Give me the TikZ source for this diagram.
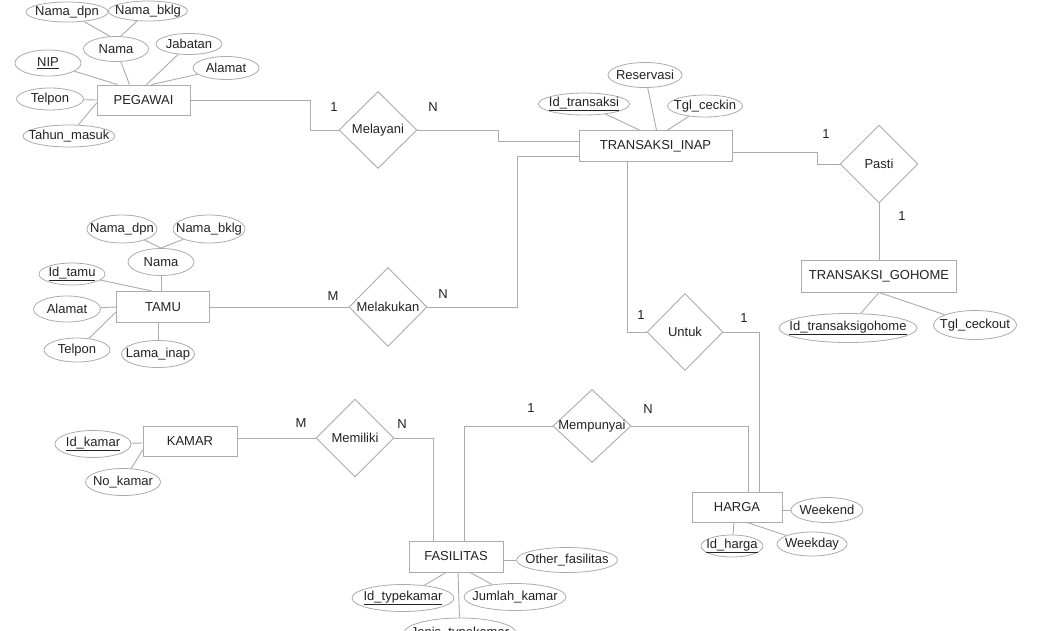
\documentclass[tikz,border=0pt]{standalone}
\usepackage{fontspec}
\setmainfont{Liberation Sans}
\usetikzlibrary{shapes.geometric,calc}
\definecolor{lg}{RGB}{172,172,172}
\definecolor{tx}{RGB}{35,35,35}
\newcommand\zb[1]{\makebox[0pt]{#1}}
\begin{document}
\begin{tikzpicture}[x=1pt,y=-1pt,
  every node/.style={text=tx, font=\fontsize{13}{15}\selectfont},
  ent/.style 2 args={rectangle, draw=lg, line width=0.9pt, minimum width=#1pt, minimum height=#2pt, inner sep=0pt},
  attr/.style 2 args={ellipse, draw=lg, line width=0.8pt, minimum width=#1pt, minimum height=#2pt, inner sep=0pt},
  rel/.style 2 args={diamond, draw=lg, line width=0.9pt, minimum width=#1pt, minimum height=#2pt, inner sep=0pt},
  lnk/.style={draw=lg, line width=0.9pt},
  card/.style={inner sep=0pt}]
\useasboundingbox (0,0) rectangle (1041,630);
\fill[white] (0,0) rectangle (1041,630);
\clip (0,0) rectangle (1041,630);

% ---------- PEGAWAI ----------
\node[ent={93}{30}] (peg) at (143.5,100) {PEGAWAI};
\node[attr={82}{20}] (pnd) at (67,12) {\zb{Nama\_dpn}};
\node[attr={79}{20}] (pnb) at (148,11) {\zb{Nama\_bklg}};
\node[attr={65}{25}] (pn) at (116,49) {\zb{Nama}};
\node[attr={66}{21}] (pjab) at (189,44) {\zb{Jabatan}};
\node[attr={66}{23}] (pal) at (226,68) {\zb{Alamat}};
\node[attr={66}{26}] (pnip) at (48,63) {\zb{\underline{NIP}}};
\node[attr={67}{22}] (ptel) at (50,99) {\zb{Telpon}};
\node[attr={92}{22}] (pth) at (69,136) {\zb{Tahun\_masuk}};
\draw[lnk] (pnd) -- (pn.115);
\draw[lnk] (pnb) -- (pn.70);
\draw[lnk] (pn) -- ([xshift=-14pt]peg.north);
\draw[lnk] (pnip) -- ([xshift=-26pt]peg.north);
\draw[lnk] (pjab) -- ([xshift=3pt]peg.north);
\draw[lnk] (pal) -- ([xshift=8pt]peg.north);
\draw[lnk] (ptel) -- (peg.west);
\draw[lnk] (pth) -- ([yshift=-3pt]peg.west);

% ---------- TRANSAKSI_INAP ----------
\node[ent={153}{31}] (tin) at (655.5,146) {TRANSAKSI\_INAP};
\node[attr={91}{22}] (tid) at (584,104) {\zb{\underline{Id\_transaksi}}};
\node[attr={74}{25}] (tres) at (645,75) {\zb{Reservasi}};
\node[attr={75}{22}] (tgl) at (705,106) {\zb{Tgl\_ceckin}};
\draw[lnk] (tid) -- ([xshift=-16pt]tin.north);
\draw[lnk] (tres) -- ([xshift=1pt]tin.north);
\draw[lnk] (tgl) -- ([xshift=12pt]tin.north);

% ---------- Melayani ----------
\node[rel={78}{77}] (mel) at (378,130) {\zb{Melayani}};
\draw[lnk] (peg.east) -- (310,100) |- (mel.west);
\draw[lnk] (mel.east) -- (498,130) |- ([yshift=5pt]tin.west);
\node[card] (c1) at (334,107) {1};
\node[card] (c2) at (433,107) {N};

% ---------- Pasti / GOHOME ----------
\node[rel={78}{78}] (pas) at (879,164) {\zb{Pasti}};
\node[ent={155}{32}] (gh) at (879,276) {TRANSAKSI\_GOHOME};
\node[attr={138}{29}] (gid) at (848,328) {\zb{\underline{Id\_transaksigohome}}};
\node[attr={83}{29}] (gtg) at (975,325) {\zb{Tgl\_ceckout}};
\draw[lnk] ([yshift=-6pt]tin.east) -- (817,152) |- (pas.west);
\draw[lnk] (pas.south) -- (gh.north);
\draw[lnk] (gid) -- (gh.south);
\draw[lnk] (gtg) -- (gh.south);
\node[card] (c3) at (826,134) {1};
\node[card] (c4) at (902,216) {1};

% ---------- TAMU ----------
\node[ent={93}{31}] (tam) at (163,307) {TAMU};
\node[attr={70}{28}] (tnd) at (122,229) {\zb{Nama\_dpn}};
\node[attr={72}{28}] (tnb) at (209,229) {\zb{Nama\_bklg}};
\node[attr={66}{27}] (tn) at (161,262) {\zb{Nama}};
\node[attr={66}{22}] (tid2) at (72,274) {\zb{\underline{Id\_tamu}}};
\node[attr={67}{26}] (tal) at (67,309) {\zb{Alamat}};
\node[attr={66}{24}] (ttel) at (77,350) {\zb{Telpon}};
\node[attr={73}{27}] (tli) at (158,354) {\zb{Lama\_inap}};
\draw[lnk] (tnd) -- (tn.north);
\draw[lnk] (tnb) -- (tn.north);
\draw[lnk] (tn) -- ([xshift=-2pt]tam.north);
\draw[lnk] (tid2) -- ([xshift=-11pt]tam.north);
\draw[lnk] (tal) -- (tam.west);
\draw[lnk] (ttel) -- ([yshift=-5pt]tam.west);
\draw[lnk] (tli) -- ([xshift=-5pt]tam.south);

% ---------- Melakukan ----------
\node[rel={78}{79}] (mlk) at (388,307) {\zb{Melakukan}};
\draw[lnk] (tam.east) -- (mlk.west);
\draw[lnk] (mlk.east) -- (517,307) |- ([yshift=-10pt]tin.west);
\node[card] (c5) at (333,296) {M};
\node[card] (c6) at (443,294) {N};

% ---------- HARGA ----------
\node[ent={90}{30}] (har) at (737,507) {HARGA};
\node[attr={72}{25}] (hwe) at (827,510) {\zb{Weekend}};
\node[attr={62}{22}] (hid) at (732,546) {\zb{\underline{Id\_harga}}};
\node[attr={70}{24}] (hwd) at (812,544) {\zb{Weekday}};
\draw[lnk] (har.east |- hwe) -- (hwe);
\draw[lnk] ([xshift=-3pt]har.south) -- (hid);
\draw[lnk] ([xshift=10pt]har.south) -- (hwd);

% ---------- Untuk ----------
\node[rel={76}{77}] (unt) at (685,332) {\zb{Untuk}};
\draw[lnk] ([xshift=-28pt]tin.south) |- (unt.west);
\draw[lnk] (unt.east) -| ([xshift=22pt]har.north);
\node[card] (c7) at (641,315) {1};
\node[card] (c8) at (744,318) {1};

% ---------- KAMAR ----------
\node[ent={94}{30}] (kam) at (190,441) {KAMAR};
\node[attr={76}{27}] (kid) at (93,444) {\zb{\underline{Id\_kamar}}};
\node[attr={75}{27}] (kno) at (123,482) {\zb{No\_kamar}};
\draw[lnk] (kid) -- ([yshift=-2pt]kam.west);
\draw[lnk] (kno) -- ([yshift=-9pt]kam.west);

% ---------- FASILITAS ----------
\node[ent={94}{31}] (fas) at (456,556.5) {FASILITAS};
\node[attr={101}{25}] (fot) at (567,560) {\zb{Other\_fasilitas}};
\node[attr={102}{27}] (fid) at (403,598) {\zb{\underline{Id\_typekamar}}};
\node[attr={102}{27}] (fjk) at (515,597) {\zb{Jumlah\_kamar}};
\node[attr={112}{30}] (fjt) at (460,633) {\zb{Jenis\_typekamar}};
\draw[lnk] (fas.east |- fot) -- (fot);
\draw[lnk] ([xshift=-10pt]fas.south) -- (fid);
\draw[lnk] ([xshift=14pt]fas.south) -- (fjk);
\draw[lnk] ([xshift=2pt]fas.south) -- (fjt);

% ---------- Memiliki ----------
\node[rel={78}{78}] (mem) at (355,438) {\zb{Memiliki}};
\draw[lnk] ([yshift=3pt]kam.east) -- (mem.west);
\draw[lnk] (mem.east) -| ([xshift=-23pt]fas.north);
\node[card] (c9) at (301,423) {M};
\node[card] (c10) at (402,424) {N};

% ---------- Mempunyai ----------
\node[rel={78}{73}] (mpy) at (592,426) {\zb{Mempunyai}};
\draw[lnk] (mpy.west) -| ([xshift=8pt]fas.north);
\draw[lnk] (mpy.east) -| ([xshift=11pt]har.north);
\node[card] (c11) at (531,408) {1};
\node[card] (c12) at (648,409) {N};
\end{tikzpicture}
\end{document}
